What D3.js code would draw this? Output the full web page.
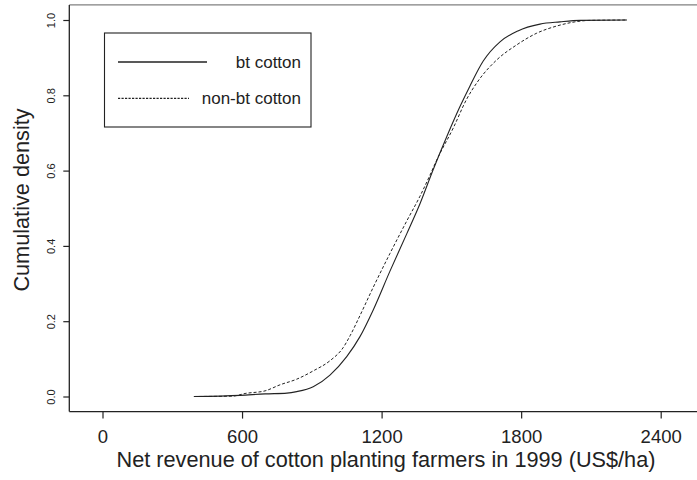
<!DOCTYPE html>
<html>
<head>
<meta charset="utf-8">
<script src="https://cdn.jsdelivr.net/npm/d3@7"></script>
<style>
  body { margin: 0; background: #fff; }
  svg { display: block; font-family: "Liberation Sans", Arial, sans-serif; }
</style>
</head>
<body>
<svg id="chart"></svg>
<script>
// ECDF knots: [net revenue US$/ha, cumulative density]
const btRevenue = [393, 592, 699, 793, 835, 906, 978, 1050, 1107, 1164, 1236, 1308, 1365, 1422, 1480, 1537, 1580, 1637, 1709, 1786, 1881, 1967, 2053, 2255];
const btCum     = [0, 0.003, 0.007, 0.009, 0.013, 0.026, 0.057, 0.106, 0.159, 0.230, 0.333, 0.432, 0.512, 0.603, 0.690, 0.770, 0.825, 0.891, 0.942, 0.971, 0.989, 0.995, 0.999, 1.0];

const nonBtRevenue = [393, 560, 613, 699, 763, 835, 906, 978, 1035, 1065, 1107, 1164, 1236, 1308, 1365, 1408, 1437, 1508, 1566, 1615, 1695, 1781, 1867, 1953, 2031, 2096, 2255];
const nonBtCum     = [0, 0.001, 0.008, 0.015, 0.031, 0.046, 0.068, 0.095, 0.130, 0.162, 0.215, 0.290, 0.380, 0.466, 0.532, 0.588, 0.628, 0.713, 0.790, 0.838, 0.894, 0.934, 0.965, 0.984, 0.995, 0.999, 1.0];

const xTicks = [0, 600, 1200, 1800, 2400];
const yTicks = [0, 0.2, 0.4, 0.6, 0.8, 1.0];
const seriesNames = ["bt cotton", "non-bt cotton"];

const W = 697, H = 480;
const svg = d3.select("#chart").attr("width", W).attr("height", H);
svg.append("rect").attr("width", W).attr("height", H).attr("fill", "#fff");

const x = d3.scaleLinear().domain([0, 2400]).range([102.5, 660.7]);
const y = d3.scaleLinear().domain([0, 1]).range([396.5, 20]);

const plotLeft = 69.3, plotTop = 4.9, plotBottom = 411.6;
const ink = "#222";

// frame: left, top (greyish in the picture), bottom
svg.append("line").attr("x1", plotLeft).attr("x2", W).attr("y1", plotTop).attr("y2", plotTop)
  .attr("stroke", "#808080").attr("stroke-width", 1.4);
svg.append("line").attr("x1", plotLeft).attr("x2", plotLeft).attr("y1", plotTop).attr("y2", plotBottom)
  .attr("stroke", ink).attr("stroke-width", 1.3);
svg.append("line").attr("x1", plotLeft).attr("x2", W).attr("y1", plotBottom).attr("y2", plotBottom)
  .attr("stroke", ink).attr("stroke-width", 1.3);

// x axis
const xAxis = svg.append("g")
  .attr("transform", `translate(0,${plotBottom})`)
  .call(d3.axisBottom(x).tickValues(xTicks).tickSize(7).tickPadding(11)
    .tickFormat(d3.format("d")).tickSizeOuter(0));
xAxis.select(".domain").remove();
xAxis.selectAll("line").attr("stroke", ink).attr("stroke-width", 1.2);
xAxis.selectAll("text")
  .attr("fill", ink)
  .style("font-size", "18.5px")
  .style("font-family", "'Liberation Sans', Arial, sans-serif");

// y axis
const yAxis = svg.append("g")
  .attr("transform", `translate(${plotLeft},0)`)
  .call(d3.axisLeft(y).tickValues(yTicks).tickSize(6).tickFormat(d3.format(".1f")).tickSizeOuter(0));
yAxis.select(".domain").remove();
yAxis.selectAll("line").attr("stroke", ink).attr("stroke-width", 1.2);
yAxis.selectAll("text")
  .attr("x", null).attr("dy", null)
  .attr("transform", "translate(-14.3,0) rotate(-90)")
  .attr("text-anchor", "middle")
  .attr("fill", ink)
  .style("font-size", "11px")
  .style("font-family", "'Liberation Sans', Arial, sans-serif");

// axis titles
svg.append("text")
  .attr("x", 386).attr("y", 467)
  .attr("text-anchor", "middle")
  .attr("fill", ink)
  .style("font-size", "21.7px")
  .text("Net revenue of cotton planting farmers in 1999 (US$/ha)");

svg.append("text")
  .attr("transform", "translate(29,200) rotate(-90)")
  .attr("text-anchor", "middle")
  .attr("fill", ink)
  .style("font-size", "21.7px")
  .text("Cumulative density");

// curves
const line = d3.line().x(d => x(d[0])).y(d => y(d[1])).curve(d3.curveMonotoneX);
const btData = btRevenue.map((r, i) => [r, btCum[i]]);
const nonBtData = nonBtRevenue.map((r, i) => [r, nonBtCum[i]]);

svg.append("path").datum(nonBtData)
  .attr("d", line)
  .attr("fill", "none")
  .attr("stroke", ink)
  .attr("stroke-width", 1)
  .attr("stroke-dasharray", "3,2");

svg.append("path").datum(btData)
  .attr("d", line)
  .attr("fill", "none")
  .attr("stroke", ink)
  .attr("stroke-width", 1.1);

// legend
const legend = svg.append("g");
legend.append("rect")
  .attr("x", 104.5).attr("y", 33)
  .attr("width", 206.5).attr("height", 94)
  .attr("fill", "#fff").attr("stroke", ink).attr("stroke-width", 1.1);

legend.append("line").attr("x1", 118).attr("x2", 207).attr("y1", 62).attr("y2", 62)
  .attr("stroke", ink).attr("stroke-width", 1.6);
legend.append("line").attr("x1", 118).attr("x2", 189).attr("y1", 98.3).attr("y2", 98.3)
  .attr("stroke", ink).attr("stroke-width", 1.2).attr("stroke-dasharray", "2.2,1.3");

legend.selectAll("text.lg")
  .data(seriesNames)
  .enter()
  .append("text")
  .attr("class", "lg")
  .attr("x", 301)
  .attr("y", (d, i) => i === 0 ? 68 : 104.3)
  .attr("text-anchor", "end")
  .attr("fill", ink)
  .style("font-size", "17px")
  .text(d => d);
</script>
</body>
</html>
